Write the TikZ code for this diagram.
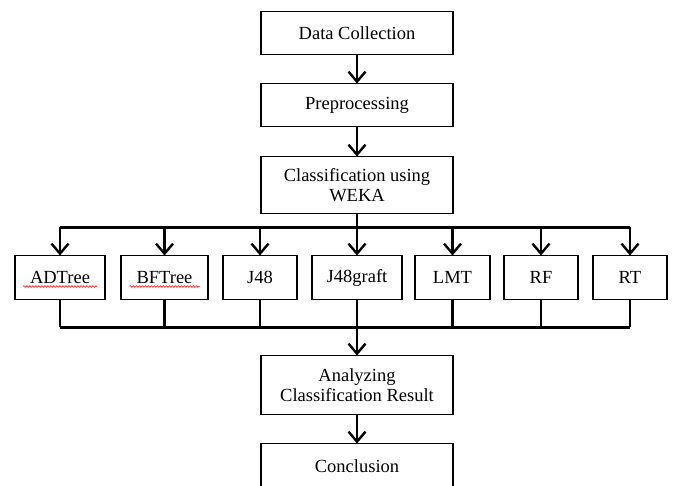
\documentclass[tikz,border=0pt]{standalone}
\usepackage{fontspec}
\setmainfont{Liberation Serif}
\usepackage{xcolor}
\usepackage{tikz}
\usetikzlibrary{positioning, arrows.meta, decorations.pathmorphing}

\begin{document}
\begin{tikzpicture}[
    x=1pt, y=1pt,
    box/.style={
        draw,
        line width=1.8pt,
        align=center,
        font=\fontsize{18.5}{20}\selectfont,
        fill=white,
        inner sep=2pt,
        outer sep=0pt
    },
    stagebox/.style={box, minimum width=192pt, minimum height=43pt},
    algo/.style={box, minimum height=44pt},
    arrow/.style={-{Straight Barb[length=10pt,width=17pt]}, line width=2.4pt},
    link/.style={line width=2.4pt},
    spell/.style={red, line width=0.6pt, decorate,
        decoration={snake, amplitude=0.8pt, segment length=3pt}}
]
\useasboundingbox (0,0) rectangle (673,-486);

\node[stagebox] (collect) at (357,-33) {Data Collection};
\node[stagebox] (prep) [below=29pt of collect] {Preprocessing};
\node[stagebox, minimum height=57pt] (classify) [below=30pt of prep] {Classification using\\WEKA};

\node[algo, minimum width=90pt] (jgraft) [below=42pt of classify] {J48graft};
\node[algo, minimum width=74pt] (jff) [left=15pt of jgraft] {J48};
\node[algo, minimum width=87pt] (bft) [left=15pt of jff] {BFTree};
\node[algo, minimum width=90pt] (adt) [left=16pt of bft] {ADTree};
\node[algo, minimum width=75pt] (lmt) [right=13pt of jgraft] {LMT};
\node[algo, minimum width=74pt] (rf) [right=14pt of lmt] {RF};
\node[algo, minimum width=74pt] (rt) [right=15pt of rf] {RT};

\node[stagebox, minimum height=59pt] (analyze) [below=56pt of jgraft] {Analyzing\\Classification Result};
\node[stagebox, minimum height=46pt] (concl) [below=29pt of analyze] {Conclusion};

\draw[arrow] (collect) -- (prep);
\draw[arrow] (prep) -- (classify);

% split to the classifiers
\coordinate (split) at ([yshift=-14pt]classify.south);
\draw[link] (classify.south) -- (split);
\draw[link] (split -| adt.north) -- (split -| rt.north);
\foreach \n in {adt, bft, jff, jgraft, lmt, rf, rt}
    \draw[arrow] (split -| \n.north) -- (\n.north);

% merge the results
\coordinate (merge) at ([yshift=-28pt]jgraft.south);
\foreach \n in {adt, bft, jff, jgraft, lmt, rf, rt}
    \draw[link] (\n.south) -- (merge -| \n.south);
\draw[link] (merge -| adt.south) -- (merge -| rt.south);
\draw[arrow] (merge) -- (analyze);
\draw[arrow] (analyze) -- (concl);

\draw[spell] ([xshift=-37pt,yshift=-9pt]adt.center) -- ([xshift=37pt,yshift=-9pt]adt.center);
\draw[spell] ([xshift=-35pt,yshift=-9pt]bft.center) -- ([xshift=35pt,yshift=-9pt]bft.center);

\end{tikzpicture}
\end{document}
